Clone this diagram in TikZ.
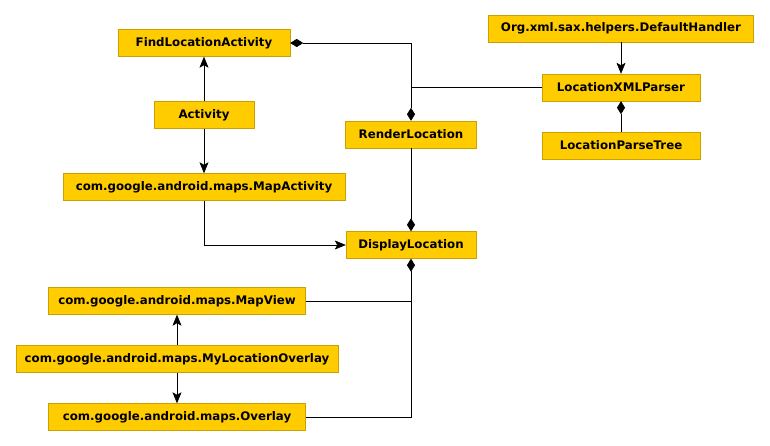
\documentclass[tikz,border=0pt]{standalone}
\usepackage{fontspec}
\setmainfont{DejaVu Sans}
\usepackage{tikz}
\usetikzlibrary{arrows.meta}
\usetikzlibrary{positioning}
\definecolor{classfill}{HTML}{FFCC00}
\definecolor{classedge}{HTML}{C9A100}
\tikzstyle{classbox} = [rectangle, minimum height=27pt, inner sep=0pt, text centered, draw=classedge, fill=classfill, font=\fontsize{11.8}{13}\selectfont\bfseries]
\tikzstyle{inherits} = [semithick, -{Stealth[length=11pt, width=9pt, inset=2.5pt]}]
\tikzstyle{owns} = [semithick, -{Diamond[length=13pt, width=8pt]}]
\tikzstyle{ownsboth} = [semithick, {Diamond[length=13pt, width=8pt]}-{Diamond[length=13pt, width=8pt]}]
\tikzstyle{ownedby} = [semithick, {Diamond[length=13pt, width=8pt]}-]
\tikzstyle{link} = [semithick]

\begin{document}
\begin{tikzpicture}[x=1pt,y=-1pt,node distance=58pt]
        \useasboundingbox[fill=white] (0,0) rectangle (770,446);
        %left column
        \node (FindLoc) [classbox, minimum width=172pt] at (204,43) {FindLocationActivity};
        \node (Activity) [classbox, minimum width=100pt, below of=FindLoc, yshift=-14pt] {Activity};
        \node (MapAct) [classbox, minimum width=282pt, below of=Activity, yshift=-14pt] {com.google.android.maps.MapActivity};
        \node (MapView) [classbox, minimum width=257pt] at (177,301) {com.google.android.maps.MapView};
        \node (MyLoc) [classbox, minimum width=322pt, below of=MapView] {com.google.android.maps.MyLocationOverlay};
        \node (Overlay) [classbox, minimum width=257pt, below of=MyLoc] {com.google.android.maps.Overlay};
        %middle column
        \node (Render) [classbox, minimum width=131pt] at (411,134.5) {RenderLocation};
        \node (Display) [classbox, minimum width=130pt] at (411,245) {DisplayLocation};
        %right column
        \node (Handler) [classbox, minimum width=265pt] at (621,28.5) {Org.xml.sax.helpers.DefaultHandler};
        \node (Parser) [classbox, minimum width=158pt, below of=Handler, yshift=-1pt] {LocationXMLParser};
        \node (Tree) [classbox, minimum width=158pt, below of=Parser] {LocationParseTree};
        %arrows
        \draw [inherits] (Activity) -- (FindLoc);
        \draw [inherits] (Activity) -- (MapAct);
        \draw [inherits] (MapAct.south) |- (Display.west);
        \draw [inherits] (MyLoc) -- (MapView);
        \draw [inherits] (MyLoc) -- (Overlay);
        \draw [inherits] (Handler) -- (Parser);
        %composition
        \draw [ownsboth] (FindLoc.east) -| (Render.north);
        \draw [link] (Parser.west) -- (Parser.west -| Render.north);
        \draw [owns] (Tree) -- (Parser);
        \draw [owns] (Render) -- (Display);
        \draw [ownedby] (Display.south) |- (Overlay.east);
        \draw [link] (MapView.east) -- (MapView.east -| Display.south);
    \end{tikzpicture}
\end{document}
